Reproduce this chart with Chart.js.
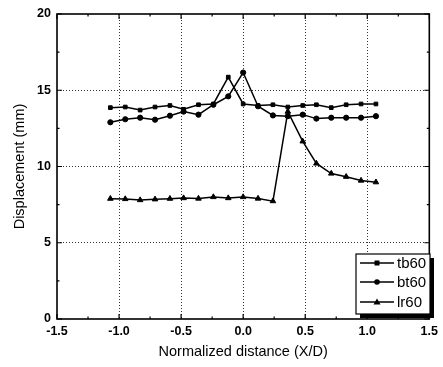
<!DOCTYPE html>
<html>
<head>
<meta charset="utf-8">
<script src="https://cdn.jsdelivr.net/npm/chart.js@4/dist/chart.umd.min.js"></script>
<style>
  html, body { margin: 0; padding: 0; background: #fff; }
  #wrap { width: 443px; height: 367px; }
</style>
</head>
<body>
<div id="wrap"><canvas id="dispChart"></canvas></div>
<script>
// normalized distance (X/D)
const xPos = [-1.07, -0.95, -0.83, -0.71, -0.59, -0.48, -0.36, -0.24, -0.12, 0,
              0.12, 0.24, 0.36, 0.48, 0.59, 0.71, 0.83, 0.95, 1.07];
const tb60 = [13.86, 13.9, 13.7, 13.9, 14.0, 13.75, 14.05, 14.1, 15.86, 14.1,
              14.0, 14.05, 13.9, 14.0, 14.05, 13.86, 14.05, 14.1, 14.1];
const bt60 = [12.9, 13.1, 13.2, 13.07, 13.33, 13.6, 13.4, 14.05, 14.6, 16.16,
              13.95, 13.35, 13.3, 13.4, 13.14, 13.2, 13.2, 13.2, 13.3];
const lr60 = [7.89, 7.87, 7.8, 7.85, 7.89, 7.93, 7.9, 8.0, 7.93, 8.0,
              7.9, 7.73, 13.6, 11.65, 10.2, 9.54, 9.33, 9.08, 8.97];
const xTicks = [-1.5, -1.0, -0.5, 0.0, 0.5, 1.0, 1.5];
const yTicks = [0, 5, 10, 15, 20];

const font = "'Liberation Sans', Arial, sans-serif";

function pts(ys) {
    return xPos.map((x, i) => ({ x: x, y: ys[i] }));
}

function series(label, ys, shape) {
    return {
        label: label,
        data: pts(ys),
        borderColor: '#000',
        backgroundColor: '#000',
        borderWidth: 1.5,
        pointStyle: shape,
        pointRadius: shape === 'triangle' ? 3.2 : 2.6,
        pointBorderWidth: 1,
        tension: 0
    };
}

// frame, inward ticks and boxed legend drawn inside the plot
const framePlugin = {
    id: 'frame',
    afterDraw(chart) {
        const c = chart.ctx, a = chart.chartArea;
        const xs = chart.scales.x, ys = chart.scales.y;
        c.save();
        c.strokeStyle = '#000';
        c.lineWidth = 1.6;
        c.strokeRect(a.left, a.top, a.right - a.left, a.bottom - a.top);
        c.lineWidth = 1.2;
        // major and minor ticks pointing in
        for (let v = -1.5; v <= 1.5001; v += 0.25) {
            const px = xs.getPixelForValue(v);
            const len = Math.abs(v * 2 - Math.round(v * 2)) < 1e-6 ? 5 : 2.5;
            c.beginPath();
            c.moveTo(px, a.bottom); c.lineTo(px, a.bottom - len);
            c.moveTo(px, a.top); c.lineTo(px, a.top + len);
            c.stroke();
        }
        for (let v = 0; v <= 20.001; v += 2.5) {
            const py = ys.getPixelForValue(v);
            const len = v % 5 === 0 ? 5 : 2.5;
            c.beginPath();
            c.moveTo(a.left, py); c.lineTo(a.left + len, py);
            c.moveTo(a.right, py); c.lineTo(a.right - len, py);
            c.stroke();
        }
        // legend box
        const bx = 356, by = 254, bw = 74, bh = 60;
        c.fillStyle = '#000';
        c.fillRect(bx + 4, by + 4, bw, bh);
        c.fillStyle = '#fff';
        c.fillRect(bx, by, bw, bh);
        c.lineWidth = 1.2;
        c.strokeRect(bx, by, bw, bh);
        c.font = '15px ' + font;
        c.textBaseline = 'middle';
        const rows = [9, 28, 48];
        chart.data.datasets.forEach((ds, i) => {
            const ly = by + rows[i];
            c.strokeStyle = '#000';
            c.lineWidth = 1.3;
            c.beginPath();
            c.moveTo(bx + 4, ly); c.lineTo(bx + 38, ly);
            c.stroke();
            const mx = bx + 21;
            c.fillStyle = '#000';
            c.beginPath();
            if (ds.pointStyle === 'rect') {
                c.rect(mx - 2.5, ly - 2.5, 5, 5);
            } else if (ds.pointStyle === 'circle') {
                c.arc(mx, ly, 2.8, 0, Math.PI * 2);
            } else {
                c.moveTo(mx, ly - 3.5); c.lineTo(mx + 3.5, ly + 2.5); c.lineTo(mx - 3.5, ly + 2.5);
                c.closePath();
            }
            c.fill();
            c.fillText(ds.label, bx + 41, ly + 1);
        });
        c.restore();
    }
};

const ctx = document.getElementById('dispChart').getContext('2d');
const dispChart = new Chart(ctx, {
    type: 'line',
    data: {
        datasets: [
            series('tb60', tb60, 'rect'),
            series('bt60', bt60, 'circle'),
            series('lr60', lr60, 'triangle')
        ]
    },
    options: {
        responsive: true,
        maintainAspectRatio: false,
        animation: false,
        layout: { padding: { left: 11, right: 11, top: 14, bottom: 0 } },
        plugins: {
            legend: { display: false },
            tooltip: { enabled: false }
        },
        scales: {
            x: {
                type: 'linear',
                min: -1.5,
                max: 1.5,
                afterBuildTicks: s => { s.ticks = xTicks.map(v => ({ value: v })); },
                afterFit: s => { s.height = 48; },
                grid: {
                    color: c => (c.tick && Math.abs(c.tick.value) < 1.4) ? '#000' : 'rgba(0,0,0,0)',
                    lineWidth: 0.8,
                    drawTicks: false
                },
                border: { display: false, dash: [1, 2] },
                ticks: {
                    color: '#000',
                    padding: 5,
                    font: { size: 12.5, family: font, weight: 'bold' },
                    callback: v => v.toFixed(1)
                },
                title: {
                    display: true,
                    text: 'Normalized distance (X/D)',
                    color: '#000',
                    font: { size: 14.5, family: font },
                    padding: { top: 0, bottom: 6 }
                }
            },
            y: {
                min: 0,
                max: 20,
                afterBuildTicks: s => { s.ticks = yTicks.map(v => ({ value: v })); },
                afterFit: s => { s.width = 46; },
                grid: {
                    color: c => (c.tick && c.tick.value > 0 && c.tick.value < 20) ? '#000' : 'rgba(0,0,0,0)',
                    lineWidth: 0.8,
                    drawTicks: false
                },
                border: { display: false, dash: [1, 2] },
                ticks: {
                    color: '#000',
                    padding: 6,
                    font: { size: 12.5, family: font, weight: 'bold' }
                },
                title: {
                    display: true,
                    text: 'Displacement (mm)',
                    color: '#000',
                    font: { size: 14.5, family: font },
                    padding: { top: 0, bottom: 0 }
                }
            }
        }
    },
    plugins: [framePlugin]
});
</script>
</body>
</html>
